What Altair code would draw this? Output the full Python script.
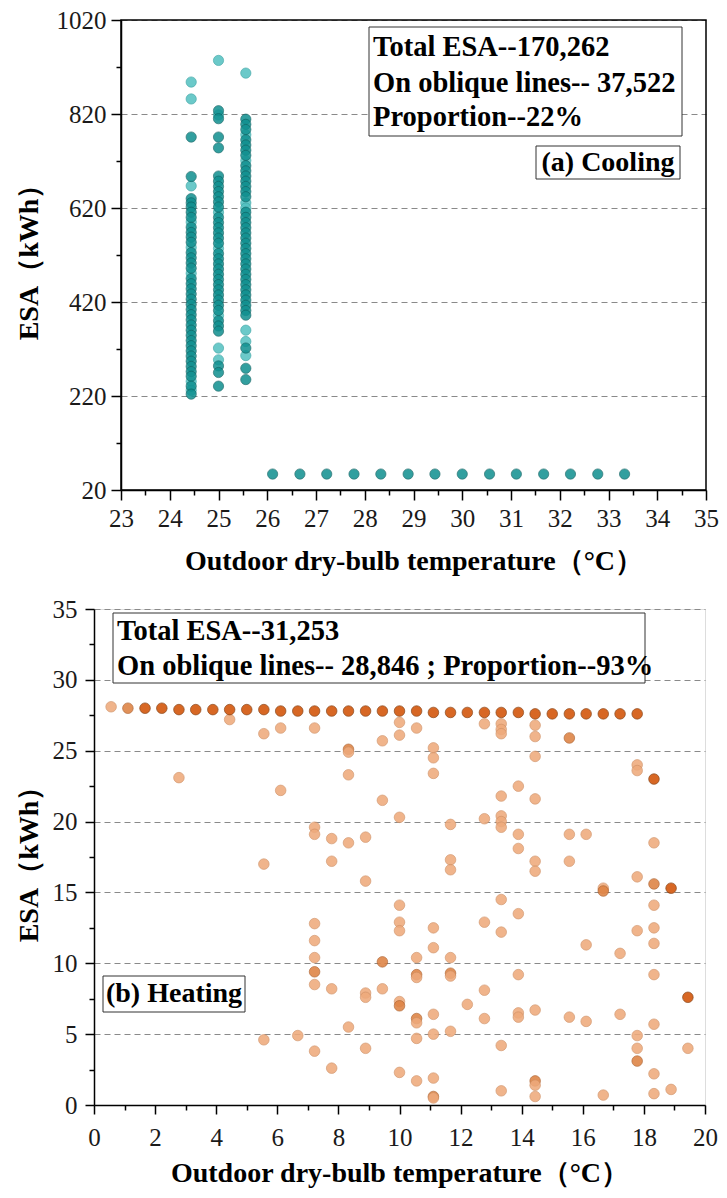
import altair as alt
import pandas as pd

FONT = "Liberation Serif"

# ---------------- (a) Cooling ----------------
cool_col_temps = [24.44, 25.0, 25.56]
c1_dark = [771, 687, 640, 631, 622, 611, 600, 579, 568, 558, 547, 525, 514, 503, 492, 470, 459, 448,
           437, 426, 415, 404, 393, 382, 371, 360, 349, 338, 327, 316, 305, 294, 283, 272, 262, 241, 224]
c1_light = [888, 852, 667, 590, 536, 481, 251, 232]
c2_dark = [827, 810, 771, 748, 688, 677, 666, 655, 644, 633, 622, 600, 589, 578, 567, 556, 545, 523,
           512, 501, 490, 479, 468, 457, 446, 435, 424, 413, 402, 380, 369, 358, 284, 270, 241]
c2_light = [934, 818, 611, 534, 391, 322, 297]
c3_dark = [809, 798, 787, 765, 754, 743, 732, 710, 699, 688, 677, 666, 655, 644, 611, 600, 589, 578,
           567, 556, 545, 534, 523, 512, 501, 490, 479, 468, 457, 446, 435, 424, 413, 402, 392, 322, 279, 255]
c3_light = [907, 776, 721, 631, 620, 360, 336, 306]
cool_row_t = [26.11, 26.67, 27.22, 27.78, 28.33, 28.89, 29.44, 30.0, 30.56, 31.11, 31.67, 32.22, 32.78, 33.33]
cool_row_e = [54, 54, 54, 54, 54, 54, 54, 54, 54, 54, 54, 54, 54, 54]

cool_x_ticks = [23, 23.5, 24, 24.5, 25, 25.5, 26, 26.5, 27, 27.5, 28, 28.5, 29, 29.5, 30, 30.5,
                31, 31.5, 32, 32.5, 33, 33.5, 34, 34.5, 35]
cool_y_ticks = [20, 120, 220, 320, 420, 520, 620, 720, 820, 920, 1020]

# ---------------- (b) Heating ----------------
heat_top_t = [0.56, 1.11, 1.67, 2.22, 2.78, 3.33, 3.89, 4.44, 5.0, 5.56, 6.11, 6.67, 7.22, 7.78, 8.33, 8.89,
              9.44, 10.0, 10.56, 11.11, 11.67, 12.22, 12.78, 13.33, 13.89, 14.44, 15.0, 15.56, 16.11, 16.67, 17.22, 17.78]
heat_top_e = [28.1, 28.0, 28.0, 28.0, 27.9, 27.9, 27.9, 27.9, 27.9, 27.9, 27.8, 27.8, 27.8, 27.8, 27.8, 27.8,
              27.8, 27.8, 27.8, 27.7, 27.7, 27.7, 27.7, 27.7, 27.7, 27.6, 27.6, 27.6, 27.6, 27.6, 27.6, 27.6]
heat_top_s = ["l", "m", "d", "d", "d", "d", "d", "d", "d", "d", "d", "d", "d", "d", "d", "d",
              "d", "d", "d", "d", "d", "d", "d", "d", "d", "d", "d", "d", "d", "d", "d", "d"]

heat_t = [2.78, 4.44, 5.56, 5.56, 5.56, 6.11, 6.11, 6.67, 7.22, 7.22, 7.22, 7.22, 7.22, 7.22, 7.22, 7.22, 7.22,
          7.78, 7.78, 7.78, 7.78, 8.33, 8.33, 8.33, 8.33, 8.33, 8.89, 8.89, 8.89, 8.89, 8.89,
          9.44, 9.44, 9.44, 9.44, 10.0, 10.0, 10.0, 10.0, 10.0, 10.0, 10.0, 10.0, 10.0,
          10.56, 10.56, 10.56, 10.56, 10.56, 10.56, 10.56, 10.56,
          11.11, 11.11, 11.11, 11.11, 11.11, 11.11, 11.11, 11.11, 11.11, 11.11,
          11.67, 11.67, 11.67, 11.67, 11.67, 11.67, 11.67, 12.22,
          12.78, 12.78, 12.78, 12.78, 12.78,
          13.33, 13.33, 13.33, 13.33, 13.33, 13.33, 13.33, 13.33, 13.33, 13.33, 13.33,
          13.89, 13.89, 13.89, 13.89, 13.89, 13.89, 13.89,
          14.44, 14.44, 14.44, 14.44, 14.44, 14.44, 14.44, 14.44, 14.44, 14.44,
          15.56, 15.56, 15.56, 15.56, 16.11, 16.11, 16.11, 16.67, 16.67, 16.67, 17.22, 17.22,
          17.78, 17.78, 17.78, 17.78, 17.78, 17.78, 17.78,
          18.33, 18.33, 18.33, 18.33, 18.33, 18.33, 18.33, 18.33, 18.33, 18.33,
          18.89, 18.89, 19.44, 19.44]
heat_e = [23.1, 27.2, 26.2, 17.0, 4.6, 26.6, 22.2, 4.9, 26.6, 19.6, 19.1, 12.8, 11.6, 10.4, 9.4, 8.5, 3.8,
          18.8, 17.2, 8.2, 2.6, 25.1, 24.9, 23.3, 18.5, 5.5, 18.9, 15.8, 7.9, 7.6, 4.0,
          25.7, 21.5, 10.1, 8.2, 27.0, 26.1, 20.3, 14.1, 12.9, 12.3, 7.3, 7.0, 2.3,
          26.6, 10.4, 9.2, 9.0, 6.1, 5.8, 4.7, 1.7,
          25.2, 24.5, 23.4, 12.5, 11.1, 6.4, 5.0, 1.9, 0.6, 0.5,
          19.8, 17.3, 16.6, 10.4, 9.3, 9.1, 5.2, 7.1,
          26.9, 20.2, 12.9, 8.1, 6.1,
          26.9, 26.5, 26.2, 21.8, 20.4, 20.0, 19.6, 14.5, 12.2, 4.2, 1.0,
          22.5, 19.1, 18.1, 13.5, 9.2, 6.5, 6.2,
          26.8, 26.0, 24.6, 21.6, 17.2, 16.5, 6.7, 1.7, 1.4, 0.6,
          25.9, 19.1, 17.2, 6.2, 19.1, 11.3, 5.9, 15.3, 15.1, 0.7, 10.7, 6.4,
          24.0, 23.6, 16.1, 12.3, 4.9, 4.0, 3.1,
          23.0, 18.5, 15.6, 14.1, 12.5, 11.4, 9.2, 5.7, 2.2, 0.8,
          15.3, 1.1, 7.6, 4.0]
heat_s = ["l", "l", "l", "l", "l", "l", "l", "l", "l", "l", "l", "l", "l", "l", "m", "l", "l",
          "l", "l", "l", "l", "m", "l", "l", "l", "l", "l", "l", "l", "l", "l",
          "l", "l", "m", "l", "l", "l", "l", "l", "l", "l", "l", "m", "l",
          "l", "l", "m", "l", "m", "l", "l", "l",
          "l", "l", "l", "l", "l", "l", "l", "l", "m", "l",
          "l", "l", "l", "l", "m", "l", "l", "l",
          "l", "l", "l", "l", "l",
          "l", "l", "l", "l", "l", "l", "l", "l", "l", "l", "l",
          "l", "l", "l", "l", "l", "l", "l",
          "l", "l", "l", "l", "l", "l", "l", "m", "l", "l",
          "m", "l", "l", "l", "l", "l", "l", "l", "m", "l", "l", "l",
          "l", "l", "l", "l", "l", "l", "m",
          "d", "l", "m", "l", "l", "l", "l", "l", "l", "l",
          "d", "l", "d", "l"]

heat_x_ticks = [0, 1, 2, 3, 4, 5, 6, 7, 8, 9, 10, 11, 12, 13, 14, 15, 16, 17, 18, 19, 20]
heat_y_ticks = [0, 2.5, 5, 7.5, 10, 12.5, 15, 17.5, 20, 22.5, 25, 27.5, 30, 32.5, 35]

# ---------------- tables ----------------
rows = []
for temp, dark, light in zip(cool_col_temps, [c1_dark, c2_dark, c3_dark], [c1_light, c2_light, c3_light]):
    rows += [{"t": temp, "e": v, "s": "l"} for v in light]
    rows += [{"t": temp, "e": v, "s": "d"} for v in dark]
rows += [{"t": t, "e": e, "s": "d"} for t, e in zip(cool_row_t, cool_row_e)]
cool_df = pd.DataFrame(rows)

heat_df = pd.DataFrame({"t": heat_t + heat_top_t, "e": heat_e + heat_top_e, "s": heat_s + heat_top_s})
ann = pd.DataFrame({"k": [0]})

# both panels share a left origin; the cooling panel's plot starts SHIFT px to the right of it
SHIFT = 27
PW1, H1 = 585, 470          # cooling plot area
W1 = SHIFT + PW1            # cooling view width (incl. shift)
W2, H2 = 611, 496           # heating plot area


def x_axis(values, major, tick_major, title, title_y, title_x, pad):
    return alt.Axis(
        values=values, title=title, titleY=title_y, titleX=title_x, titleBaseline="middle",
        titleFont=FONT, titleFontSize=28, titleFontWeight="bold", titleColor="black",
        labelExpr=f"{major} ? format(datum.value, 'd') : ''", labelFont=FONT, labelFontSize=25,
        labelColor="#1a1a1a", labelPadding=pad, labelOverlap=False, labelFlush=False,
        tickSize={"condition": {"test": major, "value": tick_major}, "value": 5},
        tickColor="black", tickWidth=1.5, domainColor="black", domainWidth=1.5, grid=False,
    )


def y_axis(values, major, tick_major, title, title_x, height, pad, offset=0):
    return alt.Axis(
        values=values, title=title, titleX=title_x, titleY=height / 2, titleAngle=270,
        titleBaseline="middle", titleAlign="center", offset=offset,
        titleFont=FONT, titleFontSize=28, titleFontWeight="bold", titleColor="black",
        labelExpr=f"{major} ? format(datum.value, 'd') : ''", labelFont=FONT, labelFontSize=25,
        labelColor="#1a1a1a", labelPadding=pad, labelOverlap=False, labelFlush=False,
        tickSize={"condition": {"test": major, "value": tick_major}, "value": 5},
        tickColor="black", tickWidth=1.5, domainColor="black", domainWidth=1.5,
        grid=True, gridColor="#8a8a8a", gridDash=[6, 4], gridWidth=1.2,
        gridOpacity={"condition": {"test": major, "value": 1}, "value": 0},
    )


def box(x1, x2, y1, y2, fill="white", stroke="#333333", width=1):
    return alt.Chart(ann).mark_rect(fill=fill, stroke=stroke, strokeWidth=width).encode(
        x=alt.value(x1), x2=alt.value(x2), y=alt.value(y1), y2=alt.value(y2))


def label(txt, x, y, align="left", size=28.5):
    return alt.Chart(ann).mark_text(align=align, baseline="middle", font=FONT, fontSize=size,
                                    fontWeight="bold", color="black").encode(
        x=alt.value(x), y=alt.value(y), text=alt.value(txt))


title_x = "Outdoor dry-bulb temperature（°C）"
title_y = "ESA（kWh）"

cool_pts = alt.Chart(cool_df).mark_circle(size=105, opacity=0.85, strokeWidth=0.7).encode(
    x=alt.X("t:Q", scale=alt.Scale(domain=[23, 35], nice=False, zero=False, range=[SHIFT, W1]),
            axis=x_axis(cool_x_ticks, "datum.value % 1 === 0", 10, title_x, 71, SHIFT + PW1 / 2, 6)),
    y=alt.Y("e:Q", scale=alt.Scale(domain=[20, 1020], nice=False, zero=False),
            axis=y_axis(cool_y_ticks, "datum.value % 200 === 20", 10, title_y, -92, H1, 5, -SHIFT)),
    color=alt.Color("s:N", scale=alt.Scale(domain=["l", "d"], range=["#52c0c0", "#0f8f8f"]), legend=None),
    stroke=alt.Stroke("s:N", scale=alt.Scale(domain=["l", "d"], range=["#2c9e9e", "#0a5c5c"]), legend=None),
)

top = alt.layer(
    cool_pts,
    box(SHIFT + 248, SHIFT + 561, 7, 116),
    label("Total ESA--170,262", SHIFT + 252, 27),
    label("On oblique lines-- 37,522", SHIFT + 252, 63),
    label("Proportion--22%", SHIFT + 252, 97),
    box(SHIFT + 415, SHIFT + 559, 126, 159),
    label("(a) Cooling", SHIFT + 487, 143, "center", 28),
    box(SHIFT, W1, 0, H1, fill="transparent", stroke="black", width=1.5),
).properties(width=W1, height=H1, view=alt.ViewBackground(strokeOpacity=0))

heat_pts = alt.Chart(heat_df).mark_circle(size=112, opacity=0.88, strokeWidth=0.7).encode(
    x=alt.X("t:Q", scale=alt.Scale(domain=[0, 20], nice=False, zero=False),
            axis=x_axis(heat_x_ticks, "datum.value % 2 === 0", 9, title_x, 68, W2 / 2, 11)),
    y=alt.Y("e:Q", scale=alt.Scale(domain=[0, 35], nice=False, zero=False),
            axis=y_axis(heat_y_ticks, "datum.value % 5 === 0", 9, title_y, -65, H2, 8)),
    color=alt.Color("s:N", scale=alt.Scale(domain=["l", "m", "d"], range=["#eeaa7c", "#de8243", "#d25306"]),
                    legend=None),
    stroke=alt.Stroke("s:N", scale=alt.Scale(domain=["l", "m", "d"], range=["#cf8e62", "#a85a25", "#7a3000"]),
                      legend=None),
)

bottom = alt.layer(
    heat_pts,
    box(19, 551, 4, 74),
    label("Total ESA--31,253", 23, 22),
    label("On oblique lines-- 28,846 ; Proportion--93%", 23, 57),
    box(9, 151, 367, 403),
    label("(b) Heating", 80, 385, "center", 28),
).properties(width=W2, height=H2)

chart = alt.vconcat(top, bottom, spacing=21).resolve_scale(
    x="independent", y="independent", color="independent", stroke="independent"
).properties(
    padding={"left": 6, "top": 0, "right": 0, "bottom": 0}
).configure_view(stroke="black", strokeWidth=1.5).configure(background="white")

chart.save("out.html", embed_options={"renderer": "svg", "actions": False})
